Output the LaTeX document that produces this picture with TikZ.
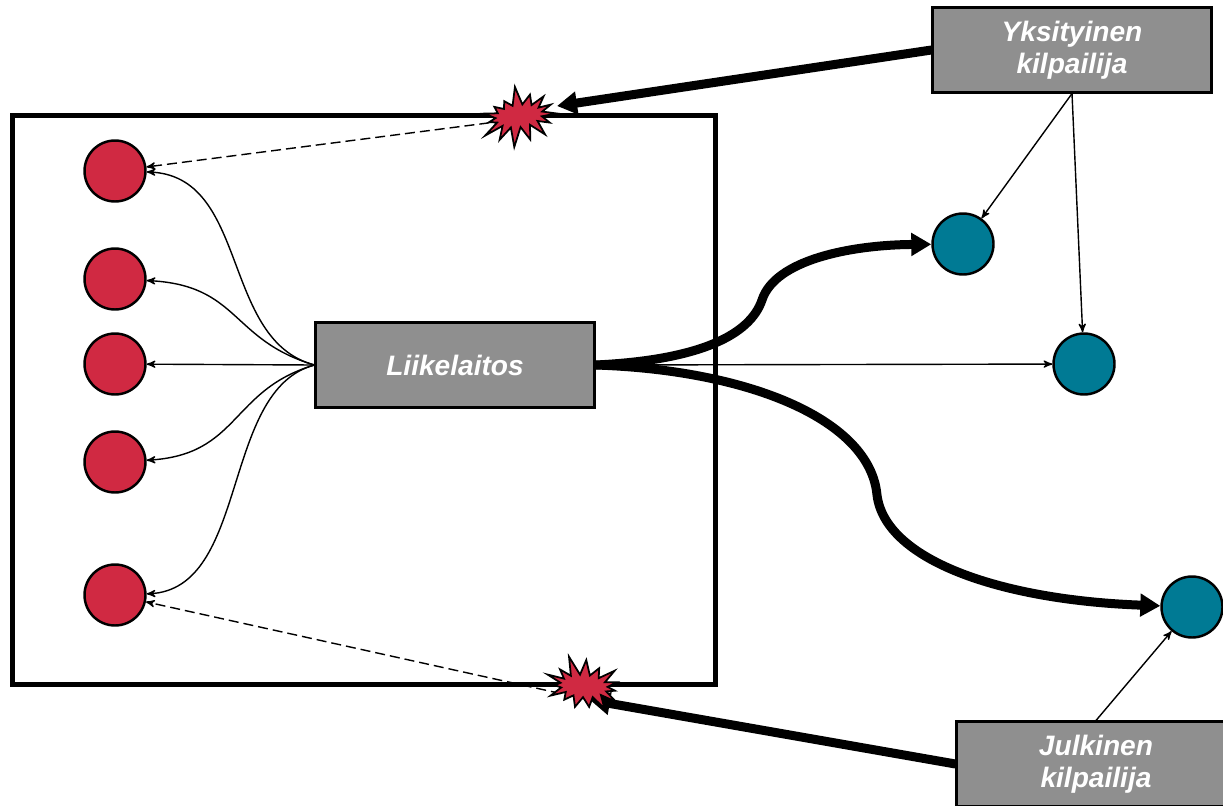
\documentclass[tikz,border=0pt]{standalone}
\usepackage{fontspec}
\setmainfont{Liberation Sans}
\usetikzlibrary{positioning, shapes, shapes.symbols, arrows, arrows.meta}
\definecolor{boxgray}{HTML}{8F8F8F}
\definecolor{unitred}{HTML}{D02942}
\definecolor{rivalteal}{HTML}{007A94}

\begin{document}
\begin{tikzpicture}[x=0.02cm,y=-0.02cm,->,>=stealth',line width=0.8pt,
  actor/.style={draw, fill=boxgray, line width=1.2pt, minimum width=5.58cm, minimum height=1.7cm, align=center, text=white, font=\fontsize{16}{18}\selectfont\bfseries\itshape},
  unit/.style={circle, draw, fill=unitred, line width=1.4pt, minimum size=1.22cm, inner sep=0pt},
  client/.style={unit, fill=rivalteal},
  boom/.style={starburst, draw, fill=unitred, line width=1pt, minimum width=1.75cm, minimum height=1.25cm, starburst points=15, starburst point height=0.4cm, inner sep=0pt},
  heavy/.style={line width=0.18cm, -{Triangle[length=0.4cm,width=0.44cm]}},
  hint/.style={dash pattern=on 0.2cm off 0.1cm}]
  \useasboundingbox (0,0) rectangle (1223,805);
  \node[draw, line width=0.1cm, minimum width=14.08cm, minimum height=11.4cm] (frame) at (364,400) {};
  \node[actor] (laitos) at (455,365) {Liikelaitos};
  \node[actor] (yks) at (1072,50) {Yksityinen\\kilpailija};
  \node[actor] (julk) at (1096,764) {Julkinen\\kilpailija};
  \foreach \y [count=\i] in {171,279,364,462,595}
    \node[unit] (r\i) at (115,\y) {};
  \node[client] (t1) at (963,244) {};
  \node[client] (t2) at (1084,364) {};
  \node[client] (t3) at (1192,607) {};
  \coordinate (aux1) at (519,116);
  \coordinate (aux2) at (584,686);
  \coordinate (hit1) at (557,106);
  \coordinate (hit2) at (590,700);
  \coordinate (tail1) at (519,119);
  \draw (laitos.west) .. controls (220,340) and (250,175) .. (r1);
  \draw (laitos.west) .. controls (230,340) and (240,285) .. (r2);
  \draw (laitos.west) .. controls (230,390) and (240,455) .. (r4);
  \draw (laitos.west) .. controls (220,390) and (250,590) .. (r5);
  \path
    (laitos.west) edge (r3)
    (laitos.east) edge (t2)
    (yks.south) edge (t1)
    (yks.south) edge (t2)
    (julk.north) edge (t3)
    (tail1) edge[hint] (r1)
    (hit2) edge[hint] (r5)
    (yks.west) edge[heavy] (hit1)
    (julk.west) edge[heavy] (hit2);
  \draw[heavy] (laitos.east) .. controls (700,360) and (750,335) .. (762,300) .. controls (775,260) and (850,245) .. (t1);
  \draw[heavy] (laitos.east) .. controls (750,370) and (870,420) .. (877,495) .. controls (885,560) and (1000,600) .. (t3);
  \node[boom, random starburst=7, rotate=8] (boom1) at (aux1) {};
  \node[boom, random starburst=11, rotate=-5] (boom2) at (aux2) {};
\end{tikzpicture}
\end{document}
